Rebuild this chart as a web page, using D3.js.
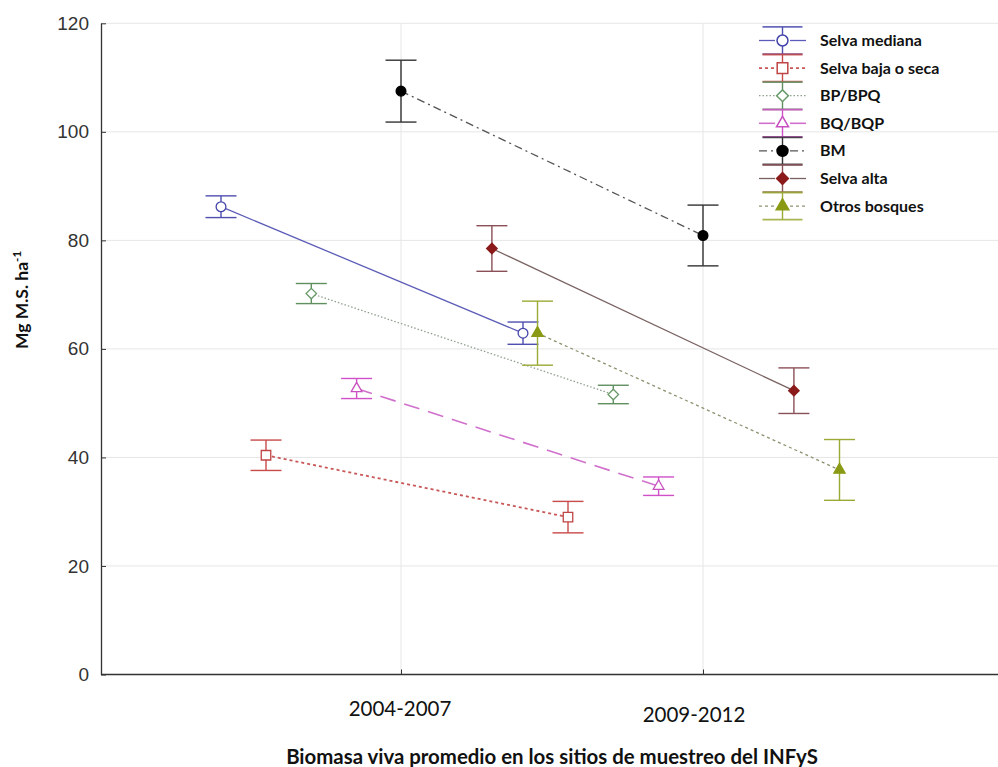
<!DOCTYPE html>
<html>
<head>
<meta charset="utf-8">
<script src="https://cdn.jsdelivr.net/npm/d3@7/dist/d3.min.js"></script>
<style>
  html, body { margin: 0; padding: 0; background: #fff; }
  svg { display: block; }
</style>
</head>
<body>
<svg id="chart" width="998" height="767"></svg>
<script>
// Survey periods (x categories)
const categories = ["2004-2007", "2009-2012"];

// Forest types (legend order)
const seriesNames = ["Selva mediana", "Selva baja o seca", "BP/BPQ", "BQ/BQP", "BM", "Selva alta", "Otros bosques"];

// Mean live biomass (Mg M.S. ha-1) per period, one array per forest type
const selvaMediana = [86.2, 62.9];
const selvaBaja    = [40.4, 29.0];
const bpBpq        = [70.2, 51.6];
const bqBqp        = [52.7, 34.7];
const bm           = [107.5, 80.9];
const selvaAlta    = [78.5, 52.3];
const otrosBosques = [62.9, 37.7];

// Error-bar half widths (same units)
const errSelvaMediana = [2.0, 2.05];
const errSelvaBaja    = [2.8, 2.9];
const errBpBpq        = [1.85, 1.7];
const errBqBqp        = [1.85, 1.7];
const errBm           = [5.7, 5.6];
const errSelvaAlta    = [4.2, 4.2];
const errOtrosBosques = [5.9, 5.6];

// Y axis ticks
const yTicks = [0, 20, 40, 60, 80, 100, 120];

const meansList = [selvaMediana, selvaBaja, bpBpq, bqBqp, bm, selvaAlta, otrosBosques];
const errList = [errSelvaMediana, errSelvaBaja, errBpBpq, errBqBqp, errBm, errSelvaAlta, errOtrosBosques];

// Presentation: horizontal shift of each series (fraction of category step) and styling
const shift = [-0.596, -0.447, -0.297, -0.147, 0, 0.301, 0.452];
const styles = [
  { line: "#5c5cb8", dash: null,        lw: 1.3, err: "#4f4fb0", sym: "circle",   fill: "#fff",    stroke: "#4444aa", size: 75 },
  { line: "#c85858", dash: "3,3",       lw: 1.8, err: "#c84a4a", sym: "square",   fill: "#fff",    stroke: "#c04444", size: 90 },
  { line: "#8fa08f", dash: "1.5,2",     lw: 1.3, err: "#5f8f5f", sym: "diamond",  fill: "#fff",    stroke: "#6a9a6a", size: 55 },
  { line: "#d070cc", dash: "16,9",      lw: 1.6, err: "#d050c8", sym: "triangle", fill: "#fff",    stroke: "#c850c0", size: 50 },
  { line: "#555555", dash: "8,4,2,4",   lw: 1.3, err: "#333333", sym: "circle",   fill: "#000",    stroke: "#000",    size: 75 },
  { line: "#7a6262", dash: null,        lw: 1.3, err: "#8a5058", sym: "diamond",  fill: "#8b1a1a", stroke: "#8b1a1a", size: 55 },
  { line: "#8a9470", dash: "3,3",       lw: 1.3, err: "#9aaa35", sym: "triangle", fill: "#8a9a15", stroke: "#8a9a15", size: 55 }
];

const svg = d3.select("#chart");
const plotLeft = 101, plotRight = 998, plotTop = 23.3, plotBottom = 674.5;

const y = d3.scaleLinear().domain([0, 120]).range([plotBottom, plotTop]);
const x = d3.scalePoint().domain(categories).range([99, 1005]).padding(1);
const step = x.step();

// Gridlines
const grid = svg.append("g");
grid.selectAll("line.h").data(yTicks.filter(d => d > 0)).join("line")
  .attr("x1", plotLeft).attr("x2", plotRight)
  .attr("y1", d => y(d)).attr("y2", d => y(d))
  .attr("stroke", "#e6e6e6").attr("stroke-width", 1);
grid.selectAll("line.v").data(categories).join("line")
  .attr("x1", d => x(d)).attr("x2", d => x(d))
  .attr("y1", plotTop).attr("y2", plotBottom)
  .attr("stroke", "#e6e6e6").attr("stroke-width", 1);

// Axes
const yAxis = d3.axisLeft(y).tickValues(yTicks).tickSizeInner(-5).tickSizeOuter(0).tickPadding(12);
const gy = svg.append("g").attr("transform", `translate(${plotLeft},0)`).call(yAxis);
gy.select(".domain").attr("stroke", "#333").attr("stroke-width", 1.3);
gy.selectAll(".tick line").attr("stroke", "#333");
gy.selectAll(".tick text").attr("font-family", "'Liberation Sans', Arial, sans-serif")
  .attr("font-size", 19).attr("fill", "#333");

const xAxis = d3.axisBottom(x).tickSizeInner(-5).tickSizeOuter(0).tickPadding(0);
const gx = svg.append("g").attr("transform", `translate(0,${plotBottom})`).call(xAxis);
gx.select(".domain").remove();
gx.selectAll(".tick line").attr("stroke", "#333");
gx.selectAll(".tick text").remove();
svg.append("line").attr("x1", plotLeft).attr("x2", plotRight).attr("y1", plotBottom).attr("y2", plotBottom)
  .attr("stroke", "#333").attr("stroke-width", 1.3);

// Category labels
const labelShift = [{ dx: -1, y: 716 }, { dx: -9, y: 722 }];
svg.append("g").selectAll("text").data(categories).join("text")
  .attr("x", (d, i) => x(d) + labelShift[i].dx)
  .attr("y", (d, i) => labelShift[i].y)
  .attr("text-anchor", "middle")
  .attr("font-family", "Lato, 'Open Sans', sans-serif")
  .attr("font-size", 20.5).attr("fill", "#111")
  .text(d => d);

// Axis titles
svg.append("text")
  .attr("x", 552).attr("y", 764)
  .attr("text-anchor", "middle")
  .attr("font-family", "Lato, 'Open Sans', sans-serif")
  .attr("font-weight", "bold").attr("font-size", 20.4).attr("fill", "#111")
  .text("Biomasa viva promedio en los sitios de muestreo del INFyS");

const yt = svg.append("text")
  .attr("transform", "translate(28,300) rotate(-90)")
  .attr("text-anchor", "middle")
  .attr("font-family", "Lato, 'Open Sans', sans-serif")
  .attr("font-weight", "bold").attr("font-size", 17.5).attr("fill", "#111");
yt.append("tspan").text("Mg M.S. ha");
yt.append("tspan").attr("dy", -7).attr("font-size", 11.5).text("-1");

function symbolPath(st, scale) {
  const type = st.sym === "circle" ? d3.symbolCircle
    : st.sym === "square" ? d3.symbolSquare
    : st.sym === "diamond" ? d3.symbolSquare
    : d3.symbolTriangle;
  return d3.symbol().type(type).size(st.size * (scale || 1))();
}
function symbolTransform(st, cx, cy) {
  return st.sym === "diamond" ? `translate(${cx},${cy}) rotate(45)` : `translate(${cx},${cy})`;
}

const capHalf = 15.5;
const plot = svg.append("g");

// Connecting lines
meansList.forEach((vals, s) => {
  const st = styles[s];
  const pts = categories.map((c, i) => [x(c) + shift[s] * step, y(vals[i])]);
  plot.append("path")
    .attr("d", d3.line()(pts))
    .attr("fill", "none")
    .attr("stroke", st.line)
    .attr("stroke-width", st.lw)
    .attr("stroke-dasharray", st.dash);
});

// Error bars and markers
meansList.forEach((vals, s) => {
  const st = styles[s];
  const g = plot.append("g");
  categories.forEach((c, i) => {
    const cx = x(c) + shift[s] * step;
    const lo = y(vals[i] - errList[s][i]);
    const hi = y(vals[i] + errList[s][i]);
    g.append("line").attr("x1", cx).attr("x2", cx).attr("y1", hi).attr("y2", lo)
      .attr("stroke", st.err).attr("stroke-width", 1.4);
    [hi, lo].forEach(yy => g.append("line")
      .attr("x1", cx - capHalf).attr("x2", cx + capHalf).attr("y1", yy).attr("y2", yy)
      .attr("stroke", st.err).attr("stroke-width", 1.4));
    g.append("path")
      .attr("d", symbolPath(st))
      .attr("transform", symbolTransform(st, cx, y(vals[i])))
      .attr("fill", st.fill).attr("stroke", st.stroke).attr("stroke-width", 1.3);
  });
});

// Legend
const legend = svg.append("g");
const lx = 782.5, ly0 = 40.5, lstep = 27.6, lcap = 13.6;
seriesNames.forEach((name, s) => {
  const st = styles[s];
  const cy = ly0 + s * lstep;
  const g = legend.append("g");
  g.append("line").attr("x1", 759).attr("x2", 775).attr("y1", cy).attr("y2", cy)
    .attr("stroke", st.line).attr("stroke-width", st.lw).attr("stroke-dasharray", st.dash);
  g.append("line").attr("x1", 790).attr("x2", 806).attr("y1", cy).attr("y2", cy)
    .attr("stroke", st.line).attr("stroke-width", st.lw).attr("stroke-dasharray", st.dash);
  g.append("line").attr("x1", lx).attr("x2", lx).attr("y1", cy - lcap).attr("y2", cy + lcap)
    .attr("stroke", st.err).attr("stroke-width", 1.4);
  [cy - lcap, cy + lcap].forEach(yy => g.append("line")
    .attr("x1", lx - 20).attr("x2", lx + 20).attr("y1", yy).attr("y2", yy)
    .attr("stroke", st.err).attr("stroke-width", 1.8).attr("stroke-opacity", 0.85));
  g.append("path")
    .attr("d", symbolPath(st, 1.25))
    .attr("transform", symbolTransform(st, lx, cy))
    .attr("fill", st.fill).attr("stroke", st.stroke).attr("stroke-width", 1.5);
  g.append("text")
    .attr("x", 820).attr("y", cy + 5.5)
    .attr("font-family", "Lato, 'Open Sans', sans-serif")
    .attr("font-weight", "bold").attr("font-size", 16).attr("fill", "#111")
    .text(name);
});
</script>
</body>
</html>
